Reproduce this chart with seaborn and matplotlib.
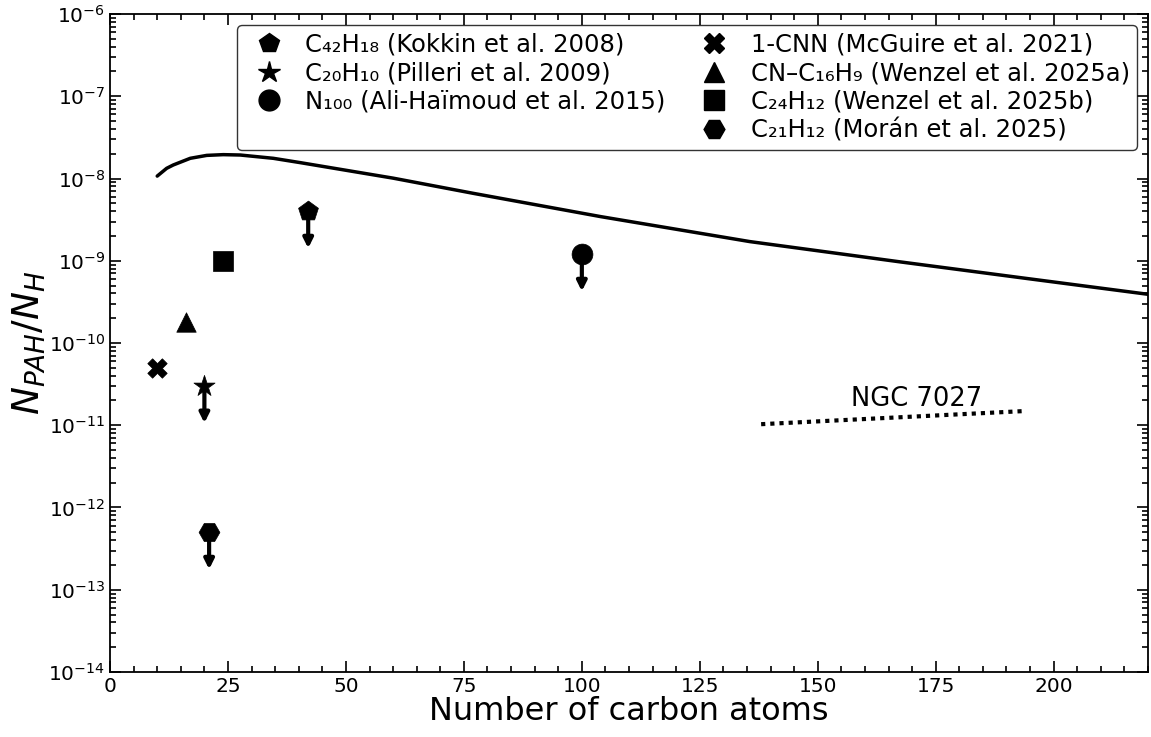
import numpy as np
import pandas as pd
import matplotlib
matplotlib.use("Agg")
import matplotlib.pyplot as plt
from matplotlib.lines import Line2D
import seaborn as sns

# model curve
curve_x = [10, 12, 13.4, 17, 20.5, 24, 27.6, 34.6, 40.3, 60, 77, 104, 135.6, 167.4, 194, 220]
curve_y = [1.07e-8, 1.33e-8, 1.46e-8, 1.76e-8, 1.91e-8, 1.95e-8, 1.93e-8, 1.76e-8,
           1.56e-8, 1.01e-8, 6.6e-9, 3.44e-9, 1.71e-9, 9.7e-10, 6.12e-10, 3.91e-10]

# NGC 7027 dotted line
ngc_x = [138, 194]
ngc_y = [1.03e-11, 1.49e-11]

# detections / upper limits
labels = ["C₄₂H₁₈ (Kokkin et al. 2008)", "C₂₀H₁₀ (Pilleri et al. 2009)",
          "N₁₀₀ (Ali-Haïmoud et al. 2015)", "1-CNN (McGuire et al. 2021)",
          "CN–C₁₆H₉ (Wenzel et al. 2025a)", "C₂₄H₁₂ (Wenzel et al. 2025b)",
          "C₂₁H₁₂ (Morán et al. 2025)"]
pt_x = [42, 20, 100, 10, 16, 24, 21]
pt_y = [4.0e-9, 3.0e-11, 1.2e-9, 5.0e-11, 1.8e-10, 1.0e-9, 5.0e-13]
upper = [True, True, True, False, False, False, True]
markers = ["p", "*", "o", "X", "^", "s", "H"]
msizes = [15, 16, 15, 14, 14, 14, 15]

sns.set_style("ticks")
plt.rcParams['font.family'] = ['DejaVu Sans']
for k in ["text.color", "axes.labelcolor", "xtick.color", "ytick.color", "axes.edgecolor"]:
    plt.rcParams[k] = "black"

fig = plt.figure(figsize=(11.51, 7.37), dpi=100)
ax = fig.add_axes([0.0956, 0.0882, 0.9018, 0.8928])

sns.lineplot(x=curve_x, y=curve_y, ax=ax, color="black", lw=2.5)
sns.lineplot(x=ngc_x, y=ngc_y, ax=ax, color="black", lw=3, linestyle=(0, (1, 1.2)))

handles = []
for x, y, up, m, ms, lab in zip(pt_x, pt_y, upper, markers, msizes, labels):
    if up:
        ax.annotate("", xy=(x, y * 10 ** -0.45), xytext=(x, y),
                    arrowprops=dict(arrowstyle="-|>", color="black", lw=3,
                                    mutation_scale=14, shrinkA=0, shrinkB=0),
                    zorder=2)
    sns.scatterplot(x=[x], y=[y], ax=ax, marker=m, s=(ms * 1.0) ** 2,
                    color="black", edgecolor="black", linewidth=0.5, zorder=3)
    handles.append(Line2D([], [], marker=m, color="black", linestyle="none",
                          markersize=ms, label=lab))

ax.text(171, 2.1e-11, "NGC 7027", fontsize=18.5, ha="center", va="center")

ax.set_yscale("log")
ax.set_xlim(0, 220)
ax.set_ylim(1e-14, 1e-6)
ax.set_xticks([0, 25, 50, 75, 100, 125, 150, 175, 200])
ax.xaxis.set_minor_locator(matplotlib.ticker.MultipleLocator(5))
ax.yaxis.set_major_locator(matplotlib.ticker.LogLocator(base=10, numticks=20))
ax.yaxis.set_minor_locator(matplotlib.ticker.LogLocator(base=10, subs=np.arange(2, 10), numticks=20))
ax.yaxis.set_minor_formatter(matplotlib.ticker.NullFormatter())
ax.tick_params(which="both", direction="in", top=True, right=True, width=1.2)
ax.tick_params(which="major", length=8, labelsize=14.5)
ax.tick_params(which="minor", length=4)
for s in ax.spines.values():
    s.set_linewidth(1.3)

ax.set_xlabel("Number of carbon atoms", fontsize=23, labelpad=0)
ax.set_ylabel(r"$N_{PAH}/N_H$", fontsize=27, labelpad=0)

blank = Line2D([], [], linestyle="none", marker=None)
order = handles[:3] + [blank] + handles[3:]
labs = labels[:3] + [" "] + labels[3:]
leg = ax.legend(order, labs, ncol=2, loc="upper right", fontsize=17.5,
                frameon=True, fancybox=True, edgecolor="black",
                handletextpad=0.5, columnspacing=1.0, labelspacing=0.2,
                borderpad=0.3, handlelength=2.0, borderaxespad=0.45)
leg.get_frame().set_linewidth(1.0)

fig.savefig("out.png", dpi=100)
